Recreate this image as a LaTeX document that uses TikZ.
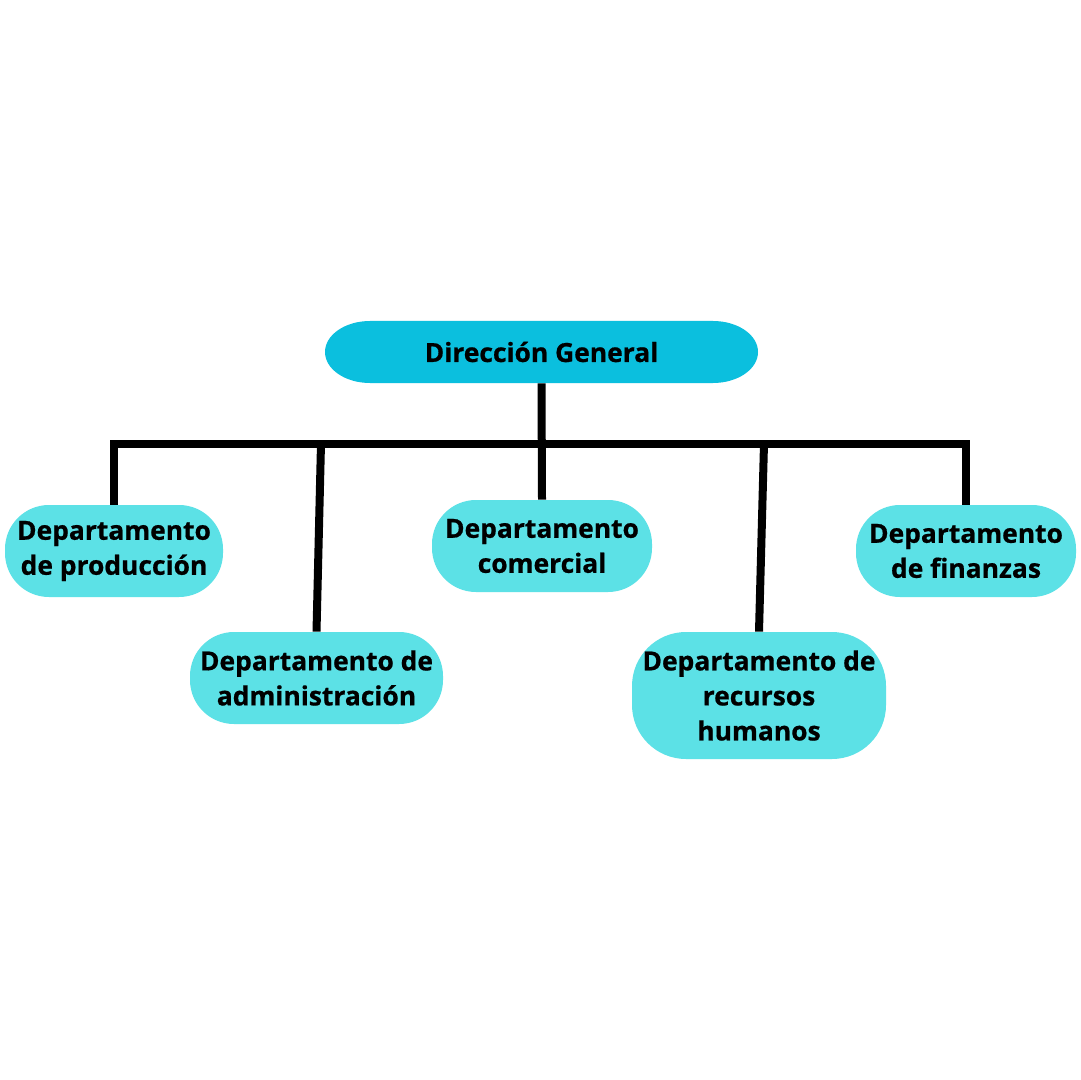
\documentclass[tikz,border=0pt]{standalone}
\usepackage{fontspec}
\setmainfont{Open Sans}[BoldFeatures={FakeBold=0.7}]
\usepackage{tikz}

\definecolor{topblue}{HTML}{0BBFDE}
\definecolor{deptblue}{HTML}{5CE1E6}

\tikzset{
	dept/.style={fill=deptblue, rounded corners=22pt, align=center, inner sep=0pt,
		font=\fontsize{13.2}{17.5}\selectfont\bfseries},
	link/.style={black, line width=4pt, line join=miter}
}

\begin{document}
\begin{tikzpicture}[x=0.5pt, y=-0.5pt]
		\useasboundingbox[fill=white] (0,0) rectangle (1080,1080);
		% top box with oval ends
		\fill[topblue] (370,321) -- (713,321) arc[start angle=90, end angle=-90, x radius=22.5pt, y radius=15.5pt]
			-- (370,383) arc[start angle=270, end angle=90, x radius=22.5pt, y radius=15.5pt] -- cycle;
		\node[inner sep=0pt, minimum width=216.5pt, minimum height=31pt,
			font=\fontsize{13.2}{17.5}\selectfont\bfseries] (dg) at (541.5,352) {Dirección General};
		\node[dept, minimum width=109pt, minimum height=46pt] (prod) at (114,551) {Departamento\\de producción};
		\node[dept, minimum width=126.5pt, minimum height=46pt] (adm) at (316.5,678) {Departamento de\\administración};
		\node[dept, minimum width=110pt, minimum height=46pt] (com) at (542,546) {Departamento\\comercial};
		\node[dept, minimum width=127pt, minimum height=63.5pt, rounded corners=27pt] (rh) at (759,695.5) {Departamento de\\recursos\\humanos};
		\node[dept, minimum width=110pt, minimum height=46pt] (fin) at (966,551) {Departamento\\de finanzas};
		\coordinate (bar) at (541,443.5);
		\coordinate (admtop) at (321,443.5);
		\coordinate (rhtop) at (764,443.5);
		% tree lines
		\draw[link] (dg.south) -- (com.north);
		\draw[link] (prod.north) -- (prod.north |- bar) -- (fin.north |- bar) -- (fin.north);
		\draw[link] (admtop) -- (adm.north);
		\draw[link] (rhtop) -- (rh.north);
		\end{tikzpicture}
\end{document}
